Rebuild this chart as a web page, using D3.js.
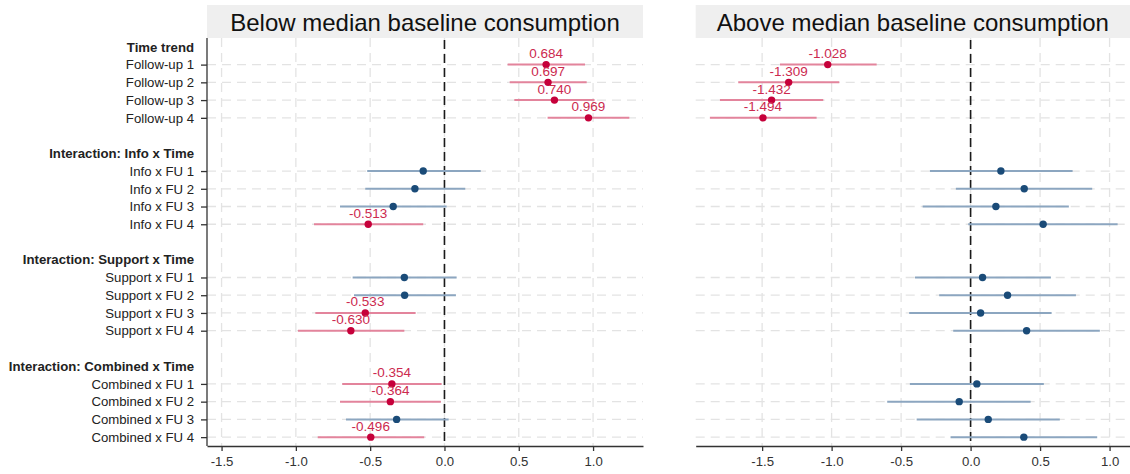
<!DOCTYPE html>
<html>
<head>
<meta charset="utf-8">
<script src="https://cdn.jsdelivr.net/npm/d3@7"></script>
<style>
  body { margin: 0; background: #fff; font-family: "Liberation Sans", Arial, sans-serif; }
  .ylab text { font-size: 13.2px; fill: #222; }
  .xax text { font-size: 13.2px; fill: #333; }
</style>
</head>
<body>
<div id="chart"></div>
<script>
// row labels (headers are bold, "" is an empty spacer row)
var rowLabels = ['Time trend', 'Follow-up 1', 'Follow-up 2', 'Follow-up 3', 'Follow-up 4', '',
  'Interaction: Info x Time', 'Info x FU 1', 'Info x FU 2', 'Info x FU 3', 'Info x FU 4', '',
  'Interaction: Support x Time', 'Support x FU 1', 'Support x FU 2', 'Support x FU 3', 'Support x FU 4', '',
  'Interaction: Combined x Time', 'Combined x FU 1', 'Combined x FU 2', 'Combined x FU 3', 'Combined x FU 4'];
var headers = ['Time trend', 'Interaction: Info x Time', 'Interaction: Support x Time', 'Interaction: Combined x Time'];

// coefficient rows, same order in each panel
var terms = ['Follow-up 1', 'Follow-up 2', 'Follow-up 3', 'Follow-up 4',
  'Info x FU 1', 'Info x FU 2', 'Info x FU 3', 'Info x FU 4',
  'Support x FU 1', 'Support x FU 2', 'Support x FU 3', 'Support x FU 4',
  'Combined x FU 1', 'Combined x FU 2', 'Combined x FU 3', 'Combined x FU 4'];

var panelTitles = ['Below median baseline consumption', 'Above median baseline consumption'];

// below median
var belowEst = [0.684, 0.697, 0.740, 0.969, -0.143, -0.199, -0.345, -0.513, -0.270, -0.268, -0.533, -0.630, -0.354, -0.364, -0.322, -0.496];
var belowLo  = [0.425, 0.439, 0.470, 0.694, -0.520, -0.533, -0.703, -0.878, -0.618, -0.609, -0.869, -0.986, -0.688, -0.703, -0.663, -0.853];
var belowHi  = [0.946, 0.957, 1.010, 1.244, 0.244, 0.140, 0.015, -0.143, 0.082, 0.077, -0.194, -0.270, -0.019, -0.024, 0.028, -0.136];

// above median
var aboveEst = [-1.028, -1.309, -1.432, -1.494, 0.218, 0.386, 0.182, 0.522, 0.086, 0.266, 0.072, 0.403, 0.045, -0.082, 0.127, 0.383];
var aboveLo  = [-1.372, -1.672, -1.804, -1.876, -0.293, -0.106, -0.345, -0.017, -0.400, -0.226, -0.442, -0.125, -0.437, -0.600, -0.388, -0.144];
var aboveHi  = [-0.676, -0.945, -1.060, -1.108, 0.734, 0.875, 0.707, 1.058, 0.578, 0.758, 0.583, 0.930, 0.527, 0.432, 0.642, 0.911];

var xTicks = [-1.5, -1.0, -0.5, 0.0, 0.5, 1.0];

var W = 1130, H = 474;
var plotTop = 38, plotBottom = 446;
var red = '#c6003a', redCI = '#e3849c', blue = '#1a4b78', blueCI = '#8ca6c0';

// plain hyphen minus like the original
var loc = d3.formatLocale({ decimal: '.', thousands: ',', grouping: [3], currency: ['', ''], minus: '-' });
var fmt1 = loc.format('.1f'), fmt3 = loc.format('.3f');

var svg = d3.select('#chart').append('svg')
    .attr('width', W).attr('height', H);

var y = d3.scalePoint().domain(d3.range(rowLabels.length)).range([plotTop, plotBottom]).padding(0.5);

// panel settings: x range in pixels and domain
var panels = [
  { title: panelTitles[0], est: belowEst, lo: belowLo, hi: belowHi,
    x: d3.scaleLinear().domain([-1.598, 1.336]).range([207, 643]), yAxis: true },
  { title: panelTitles[1], est: aboveEst, lo: aboveLo, hi: aboveHi,
    x: d3.scaleLinear().domain([-1.978, 1.147]).range([695.7, 1130]), yAxis: false }
];

function rowOf(term) { return rowLabels.indexOf(term); }

panels.forEach(function(p) {
  var x = p.x;
  var x0 = x.range()[0], x1 = x.range()[1];
  var g = svg.append('g');

  // strip title
  g.append('rect').attr('x', x0).attr('y', 5).attr('width', x1 - x0).attr('height', plotTop - 5)
    .attr('fill', '#efefef');
  g.append('text').attr('x', (x0 + x1) / 2).attr('y', 30.5)
    .attr('text-anchor', 'middle').style('font-size', '24px').attr('fill', '#111')
    .text(p.title);

  // grid
  g.selectAll('.vgrid').data(xTicks).enter().append('line')
    .attr('x1', function(d) { return x(d); }).attr('x2', function(d) { return x(d); })
    .attr('y1', plotTop).attr('y2', plotBottom)
    .attr('stroke', '#e3e3e3').attr('stroke-width', 1.3).attr('stroke-dasharray', '9,6');
  g.selectAll('.hgrid').data(terms).enter().append('line')
    .attr('x1', x0).attr('x2', x1)
    .attr('y1', function(d) { return y(rowOf(d)); }).attr('y2', function(d) { return y(rowOf(d)); })
    .attr('stroke', '#e3e3e3').attr('stroke-width', 1.3).attr('stroke-dasharray', '9,6');

  // zero line
  g.append('line').attr('x1', x(0)).attr('x2', x(0)).attr('y1', plotTop + 2).attr('y2', plotBottom)
    .attr('stroke', '#1a1a1a').attr('stroke-width', 1.6).attr('stroke-dasharray', '9,5');

  var data = terms.map(function(t, i) {
    return { term: t, est: p.est[i], lo: p.lo[i], hi: p.hi[i], sig: (p.lo[i] > 0 || p.hi[i] < 0) };
  });

  // CIs
  g.selectAll('.ci').data(data).enter().append('line')
    .attr('x1', function(d) { return x(d.lo); }).attr('x2', function(d) { return x(d.hi); })
    .attr('y1', function(d) { return y(rowOf(d.term)); }).attr('y2', function(d) { return y(rowOf(d.term)); })
    .attr('stroke', function(d) { return d.sig ? redCI : blueCI; }).attr('stroke-width', 2);

  // points
  g.selectAll('.dot').data(data).enter().append('circle')
    .attr('cx', function(d) { return x(d.est); })
    .attr('cy', function(d) { return y(rowOf(d.term)); })
    .attr('r', 3.7)
    .attr('fill', function(d) { return d.sig ? red : blue; });

  // value labels for significant terms
  g.selectAll('.lab').data(data.filter(function(d) { return d.sig; })).enter().append('text')
    .attr('x', function(d) { return x(d.est); })
    .attr('y', function(d) { return y(rowOf(d.term)) - 6.5; })
    .attr('text-anchor', 'middle').style('font-size', '13.5px').attr('fill', '#cc2a4f')
    .text(function(d) { return fmt3(d.est); });

  // x axis
  var xa = g.append('g').attr('class', 'xax')
    .attr('transform', 'translate(0,' + plotBottom + ')')
    .call(d3.axisBottom(x).tickValues(xTicks).tickFormat(fmt1).tickSize(5).tickPadding(6).tickSizeOuter(0));
  xa.select('.domain').attr('stroke', '#333').attr('stroke-width', 1.3);
  xa.selectAll('.tick line').attr('stroke', '#333').attr('stroke-width', 1.3);

  // y axis (left panel only)
  if (p.yAxis) {
    var rows = d3.range(rowLabels.length).filter(function(i) { return rowLabels[i] !== ''; });
    var ya = g.append('g').attr('class', 'ylab')
      .attr('transform', 'translate(' + x0 + ',0)')
      .call(d3.axisLeft(y).tickValues(rows).tickFormat(function(i) { return rowLabels[i]; })
        .tickSize(6).tickPadding(7).tickSizeOuter(0));
    ya.select('.domain').attr('stroke', '#333').attr('stroke-width', 1.3)
      .attr('d', 'M0,' + plotTop + 'V' + plotBottom);
    ya.selectAll('.tick line').attr('stroke', '#333').attr('stroke-width', 1.3);
    ya.selectAll('.tick').filter(function(i) { return headers.indexOf(rowLabels[i]) >= 0; })
      .each(function() {
        d3.select(this).select('line').remove();
        d3.select(this).select('text').style('font-weight', 'bold').attr('fill', '#111');
      });
  }
});
</script>
</body>
</html>
